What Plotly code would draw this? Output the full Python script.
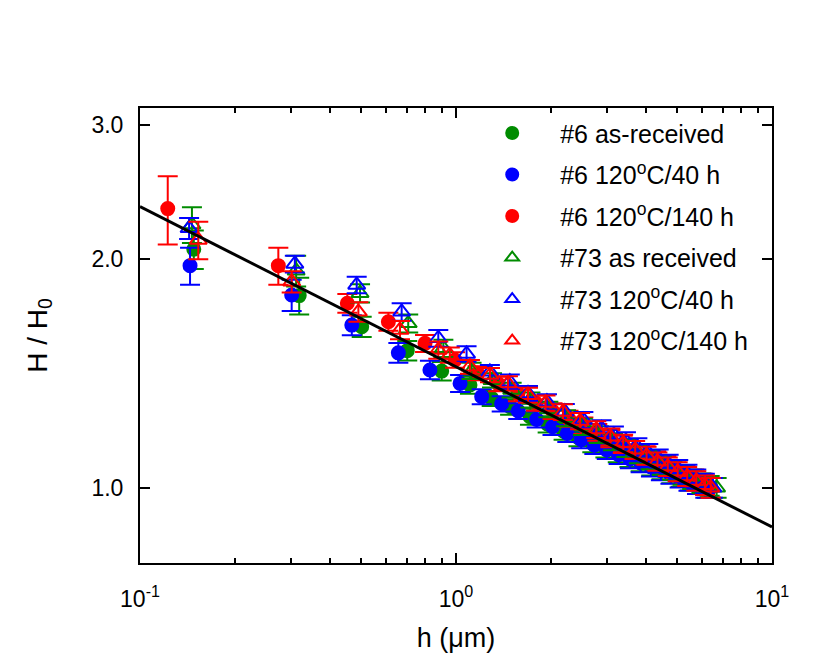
import plotly.graph_objects as go

# ---- data ----
# #6 as-received (green circles)
h_g6 = [0.148, 0.319, 0.503, 0.701, 0.901, 1.107, 1.297, 1.483, 1.714, 1.95, 2.19, 2.44, 2.70,
        2.97, 3.25, 3.54, 3.84, 4.15, 4.47, 4.80, 5.14, 5.49, 5.85, 6.22]
H_g6 = [2.06, 1.79, 1.629, 1.515, 1.424, 1.365, 1.311, 1.278, 1.240, 1.212, 1.187, 1.164, 1.144,
        1.126, 1.110, 1.095, 1.081, 1.068, 1.056, 1.044, 1.033, 1.022, 1.011, 1.000]
e_g6 = [0.12, 0.10, 0.05, 0.045, 0.04, 0.035, 0.03, 0.03, 0.03, 0.03, 0.03, 0.03, 0.03,
        0.03, 0.03, 0.03, 0.03, 0.03, 0.03, 0.03, 0.03, 0.03, 0.03, 0.03]

# #6 120C/40 h (blue circles)
h_b6 = [0.144, 0.302, 0.468, 0.657, 0.827, 1.03, 1.206, 1.395, 1.574, 1.80, 2.02, 2.25, 2.49,
        2.74, 3.00, 3.27, 3.55, 3.84, 4.14, 4.45, 4.77, 5.10, 5.44, 5.79, 6.15]
H_b6 = [1.96, 1.793, 1.637, 1.505, 1.429, 1.372, 1.318, 1.290, 1.262, 1.230, 1.203, 1.179, 1.157,
        1.138, 1.121, 1.105, 1.091, 1.078, 1.065, 1.053, 1.042, 1.031, 1.021, 1.011, 1.000]
e_b6 = [0.11, 0.085, 0.05, 0.045, 0.04, 0.035, 0.03, 0.03, 0.03, 0.03, 0.03, 0.03, 0.03,
        0.03, 0.03, 0.03, 0.03, 0.03, 0.03, 0.03, 0.03, 0.03, 0.03, 0.03, 0.03]

# #6 120C/140 h (red circles)
h_r6 = [0.1224, 0.274, 0.453, 0.611, 0.798, 0.993, 1.17, 1.36, 1.57, 1.79, 2.02, 2.27, 2.53,
        2.80, 3.08, 3.37, 3.67, 3.98, 4.30, 4.63, 4.97, 5.32, 5.68, 6.05, 6.40]
H_r6 = [2.33, 1.96, 1.749, 1.654, 1.549, 1.473, 1.415, 1.370, 1.330, 1.293, 1.262, 1.233, 1.207,
        1.183, 1.161, 1.141, 1.122, 1.104, 1.087, 1.071, 1.056, 1.041, 1.027, 1.013, 1.000]
e_r6 = [0.24, 0.11, 0.05, 0.045, 0.04, 0.035, 0.03, 0.03, 0.03, 0.03, 0.03, 0.03, 0.03,
        0.03, 0.03, 0.03, 0.03, 0.03, 0.03, 0.03, 0.03, 0.03, 0.03, 0.03, 0.03]

# #73 as received (green triangles)
h_g73 = [0.146, 0.312, 0.497, 0.706, 0.912, 1.12, 1.30, 1.50, 1.72, 1.96, 2.23, 2.52, 2.83,
         3.14, 3.46, 3.79, 4.13, 4.48, 4.84, 5.21, 5.59, 5.98, 6.35, 6.68]
H_g73 = [2.22, 1.93, 1.803, 1.646, 1.526, 1.425, 1.385, 1.345, 1.305, 1.268, 1.235, 1.203, 1.175,
         1.150, 1.128, 1.107, 1.088, 1.070, 1.054, 1.039, 1.026, 1.014, 1.006, 1.000]
e_g73 = [0.12, 0.09, 0.05, 0.045, 0.04, 0.035, 0.03, 0.03, 0.03, 0.03, 0.03, 0.03, 0.03,
         0.03, 0.03, 0.03, 0.03, 0.03, 0.03, 0.03, 0.03, 0.03, 0.03, 0.03]

# #73 120C/40 h (blue triangles)
h_b73 = [0.143, 0.309, 0.485, 0.673, 0.879, 1.08, 1.28, 1.48, 1.69, 1.94, 2.21, 2.53, 2.89,
         3.16, 3.45, 3.75, 4.06, 4.38, 4.71, 5.05, 5.40, 5.76, 6.13, 6.50]
H_b73 = [2.195, 1.97, 1.849, 1.704, 1.573, 1.500, 1.421, 1.379, 1.331, 1.298, 1.259, 1.228, 1.197,
         1.174, 1.153, 1.132, 1.112, 1.093, 1.075, 1.058, 1.042, 1.027, 1.013, 1.000]
e_b73 = [0.07, 0.05, 0.046, 0.045, 0.04, 0.035, 0.03, 0.03, 0.03, 0.03, 0.03, 0.03, 0.03,
         0.03, 0.03, 0.03, 0.03, 0.03, 0.03, 0.03, 0.03, 0.03, 0.03, 0.03]

# #73 120C/140 h (red triangles)
h_r73 = [0.1529, 0.302, 0.491, 0.665, 0.879, 0.956, 1.107, 1.281, 1.46, 1.69, 1.92, 2.18, 2.47,
         2.78, 3.08, 3.38, 3.69, 4.01, 4.34, 4.68, 5.03, 5.39, 5.76, 6.14, 6.40]
H_r73 = [2.119, 1.867, 1.704, 1.613, 1.518, 1.495, 1.443, 1.407, 1.372, 1.324, 1.293, 1.258, 1.224,
         1.193, 1.167, 1.144, 1.122, 1.102, 1.083, 1.066, 1.050, 1.035, 1.021, 1.008, 1.000]
e_r73 = [0.12, 0.06, 0.05, 0.045, 0.04, 0.035, 0.03, 0.03, 0.03, 0.03, 0.03, 0.03, 0.03,
         0.03, 0.03, 0.03, 0.03, 0.03, 0.03, 0.03, 0.03, 0.03, 0.03, 0.03, 0.03]

# power-law fit line
fit_h = [0.1, 10]
fit_H = [2.344, 0.888]

series = [
    ("#6 as-received", h_g6, H_g6, e_g6, "#008C00", "circle"),
    ("#6 120<sup>o</sup>C/40 h", h_b6, H_b6, e_b6, "#0000FF", "circle"),
    ("#6 120<sup>o</sup>C/140 h", h_r6, H_r6, e_r6, "#FF0000", "circle"),
    ("#73 as received", h_g73, H_g73, e_g73, "#008C00", "triangle-up-open"),
    ("#73 120<sup>o</sup>C/40 h", h_b73, H_b73, e_b73, "#0000FF", "triangle-up-open"),
    ("#73 120<sup>o</sup>C/140 h", h_r73, H_r73, e_r73, "#FF0000", "triangle-up-open"),
]

fig = go.Figure()

for i, (name, hx, hy, err, col, sym) in enumerate(series):
    fig.add_trace(go.Scatter(
        x=hx, y=hy, mode="markers", name=name, legendgroup=str(i),
        marker=dict(symbol=sym, size=13 if sym == "circle" else 15, color=col,
                    line=dict(width=2, color=col)),
        error_y=dict(type="data", array=err, visible=True, color=col,
                     thickness=2, width=10),
    ))

fig.add_trace(go.Scatter(
    x=fit_h, y=fit_H, mode="lines", line=dict(color="black", width=3),
    showlegend=False, hoverinfo="skip",
))

font = "Liberation Sans, Arial, sans-serif"
minor_x = [0.2, 0.3, 0.4, 0.5, 0.6, 0.7, 0.8, 0.9, 2, 3, 4, 5, 6, 7, 8, 9]

fig.update_layout(
    width=830, height=671,
    margin=dict(l=132, r=66, t=100, b=116),
    paper_bgcolor="white", plot_bgcolor="white",
    font=dict(family=font, size=23, color="black"),
    showlegend=True,
    legend=dict(x=0.513, y=0.995, xanchor="left", yanchor="top",
                bgcolor="rgba(0,0,0,0)", borderwidth=0,
                font=dict(size=25), itemwidth=86, tracegroupgap=6,
                itemsizing="constant"),
    xaxis=dict(
        type="log", range=[-1, 1],
        tickvals=[0.1, 1, 10],
        ticktext=["10<sup>-1</sup>", "10<sup>0</sup>", "10<sup>1</sup>"],
        ticks="inside", ticklen=10, tickwidth=1.5, tickcolor="black",
        minor=dict(tickvals=minor_x, ticks="inside", ticklen=5, tickwidth=1.5,
                   tickcolor="black", showgrid=False),
        showline=True, linecolor="black", linewidth=2, mirror="ticks",
        showgrid=False, zeroline=False,
        ticklabelstandoff=14,
        title=dict(text="h (\u03bcm)", font=dict(size=27), standoff=18),
    ),
    yaxis=dict(
        type="log", range=[-0.099, 0.4997],
        tickvals=[1, 2, 3], ticktext=["1.0", "2.0", "3.0"],
        ticks="inside", ticklen=10, tickwidth=1.5, tickcolor="black",
        showline=True, linecolor="black", linewidth=2, mirror="ticks",
        showgrid=False, zeroline=False,
        ticklabelstandoff=10,
        title=dict(text="H / H<sub>0</sub>", font=dict(size=28), standoff=36),
    ),
)

fig.write_html("out.html")
